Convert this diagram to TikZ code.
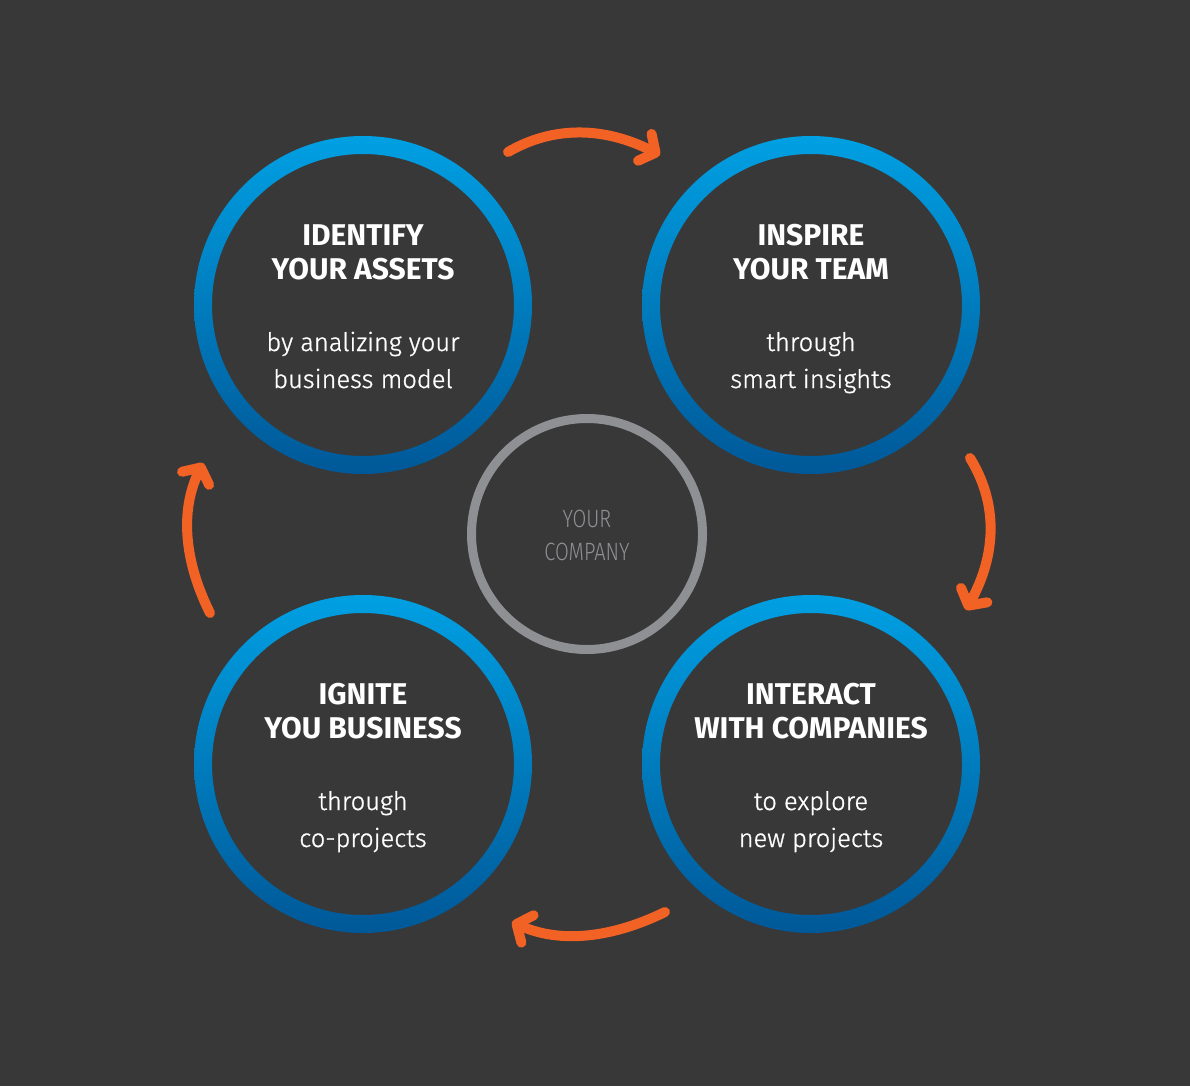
\documentclass[tikz,border=0pt]{standalone}
\usepackage{fontspec}
\setmainfont{Fira Sans}
\newfontfamily\lightf{Fira Sans Light}[FakeBold=1]
\newfontfamily\condf{Fira Sans Light}[FakeStretch=0.8]
\usetikzlibrary{arrows.meta}
\definecolor{bg}{RGB}{56,56,56}
\definecolor{bluetop}{RGB}{0,160,227}
\definecolor{bluebot}{RGB}{0,88,152}
\definecolor{ringgray}{RGB}{143,144,148}
\definecolor{orng}{RGB}{242,98,36}
\tikzset{
  ttl/.style={anchor=base, text=white, inner sep=0pt, font=\fontsize{30}{36}\selectfont\bfseries},
  bdy/.style={anchor=base, text=white, inner sep=0pt, font=\lightf\fontsize{25.5}{30}\selectfont},
  ctr/.style={anchor=base, text=ringgray, inner sep=0pt, font=\condf\fontsize{25}{30}\selectfont},
  arr/.style={draw=orng, line width=10pt, line cap=round, -{Straight Barb[length=12pt, width=30pt, round]}},
}
\newcommand{\bluering}[1]{\shade[top color=bluetop, bottom color=bluebot, even odd rule] (#1) circle (169) (#1) circle (151);}
\begin{document}
\begin{tikzpicture}[x=1pt, y=-1pt]
\fill[bg] (0,0) rectangle (1190,1086);
\useasboundingbox (0,0) rectangle (1190,1086);
\coordinate (c1) at (363,305);
\coordinate (c2) at (811,305);
\coordinate (c3) at (811,764);
\coordinate (c4) at (363,764);
\coordinate (cc) at (587,534);
\bluering{c1}
\bluering{c2}
\bluering{c3}
\bluering{c4}
\draw[ringgray, line width=9pt] (cc) circle (115.5);
% texts
\node[ttl] (t1a) at ([yshift=60]c1) {IDENTIFY};
\node[ttl] (t1b) at ([yshift=26]c1) {YOUR ASSETS};
\node[bdy] (b1a) at ([yshift=-46]c1) {by analizing your};
\node[bdy] (b1b) at ([yshift=-83]c1) {business model};
\node[ttl] (t2a) at ([yshift=60]c2) {INSPIRE};
\node[ttl] (t2b) at ([yshift=26]c2) {YOUR TEAM};
\node[bdy] (b2a) at ([yshift=-46]c2) {through};
\node[bdy] (b2b) at ([yshift=-83]c2) {smart insights};
\node[ttl] (t3a) at ([yshift=60]c3) {INTERACT};
\node[ttl] (t3b) at ([yshift=26]c3) {WITH COMPANIES};
\node[bdy] (b3a) at ([yshift=-46]c3) {to explore};
\node[bdy] (b3b) at ([yshift=-83]c3) {new projects};
\node[ttl] (t4a) at ([yshift=60]c4) {IGNITE};
\node[ttl] (t4b) at ([yshift=26]c4) {YOU BUSINESS};
\node[bdy] (b4a) at ([yshift=-46]c4) {through};
\node[bdy] (b4b) at ([yshift=-83]c4) {co-projects};
\node[ctr] (y1) at ([yshift=7]cc) {YOUR};
\node[ctr] (y2) at ([yshift=-26]cc) {COMPANY};
% arrows
\coordinate (a1s) at (508,152); \coordinate (a1e) at (660,155);
\coordinate (a2s) at (970,458); \coordinate (a2e) at (966,610);
\coordinate (a3s) at (665,912); \coordinate (a3e) at (512,922);
\coordinate (a4s) at (210,613); \coordinate (a4e) at (203,463);
\draw[arr] (a1s) .. controls (553.3,125.7) and (604,126.7) .. (a1e);
\draw[arr] (a2s) .. controls (998,503.3) and (996.7,554) .. (a2e);
\draw[arr] (a3s) .. controls (609.3,939.3) and (558.3,942.7) .. (a3e);
\draw[arr] (a4s) .. controls (183,559) and (180.7,509) .. (a4e);
\end{tikzpicture}
\end{document}
